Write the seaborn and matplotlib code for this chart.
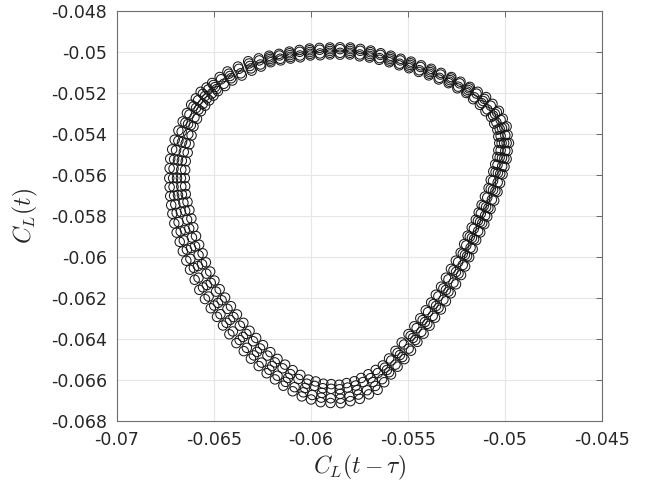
import matplotlib
matplotlib.use("Agg")
import matplotlib.pyplot as plt
import numpy as np
import pandas as pd
import seaborn as sns

# ---- data: C_L(t - tau) (x) vs C_L(t) (y), several passes around the limit cycle ----
trace1_x = [-0.06508, -0.06429, -0.06322, -0.06214, -0.06110, -0.06006, -0.05901, -0.05796, -0.05691, -0.05587,
            -0.05483, -0.05379, -0.05275, -0.05180, -0.05096, -0.05030, -0.04990, -0.04978, -0.04990, -0.05011,
            -0.05037, -0.05073, -0.05105, -0.05147, -0.05183, -0.05225, -0.05278, -0.05329, -0.05387, -0.05450,
            -0.05517, -0.05586, -0.05655, -0.05747, -0.05845, -0.05949, -0.06046, -0.06141, -0.06227, -0.06308,
            -0.06383, -0.06452, -0.06515, -0.06574, -0.06622, -0.06659, -0.06691, -0.06713, -0.06724, -0.06729,
            -0.06724, -0.06701, -0.06660, -0.06616, -0.06567]
trace1_y = [-0.05151, -0.05095, -0.05045, -0.05018, -0.04998, -0.04983, -0.04978, -0.04978, -0.04993, -0.05018,
            -0.05047, -0.05082, -0.05122, -0.05170, -0.05220, -0.05287, -0.05363, -0.05444, -0.05522, -0.05597,
            -0.05682, -0.05766, -0.05840, -0.05918, -0.06001, -0.06088, -0.06177, -0.06256, -0.06335, -0.06414,
            -0.06498, -0.06573, -0.06648, -0.06692, -0.06713, -0.06708, -0.06680, -0.06628, -0.06567, -0.06496,
            -0.06420, -0.06334, -0.06250, -0.06160, -0.06062, -0.05972, -0.05881, -0.05789, -0.05703, -0.05615,
            -0.05521, -0.05428, -0.05339, -0.05257, -0.05194]

trace2_x = [-0.06478, -0.06404, -0.06304, -0.06206, -0.06104, -0.06002, -0.05901, -0.05798, -0.05697, -0.05595,
            -0.05493, -0.05391, -0.05289, -0.05198, -0.05128, -0.05070, -0.05038, -0.05028, -0.05038, -0.05059,
            -0.05083, -0.05119, -0.05149, -0.05191, -0.05227, -0.05277, -0.05328, -0.05379, -0.05435, -0.05496,
            -0.05563, -0.05628, -0.05703, -0.05775, -0.05853, -0.05935, -0.06012, -0.06093, -0.06171, -0.06246,
            -0.06315, -0.06380, -0.06441, -0.06496, -0.06540, -0.06575, -0.06605, -0.06625, -0.06644, -0.06649,
            -0.06644, -0.06625, -0.06604, -0.06566, -0.06523]
trace2_y = [-0.05191, -0.05139, -0.05091, -0.05050, -0.05032, -0.05017, -0.05012, -0.05012, -0.05027, -0.05050,
            -0.05079, -0.05114, -0.05152, -0.05200, -0.05258, -0.05317, -0.05379, -0.05444, -0.05512, -0.05583,
            -0.05664, -0.05746, -0.05818, -0.05896, -0.05979, -0.06058, -0.06145, -0.06222, -0.06299, -0.06376,
            -0.06458, -0.06529, -0.06572, -0.06606, -0.06623, -0.06618, -0.06598, -0.06552, -0.06497, -0.06430,
            -0.06360, -0.06280, -0.06198, -0.06115, -0.06026, -0.05940, -0.05855, -0.05771, -0.05693, -0.05615,
            -0.05533, -0.05450, -0.05363, -0.05289, -0.05236]

trace3_x = [-0.06462, -0.06370, -0.06265, -0.06161, -0.06057, -0.05954, -0.05849, -0.05745, -0.05641, -0.05538,
            -0.05434, -0.05331, -0.05232, -0.05145, -0.05072, -0.05021, -0.04997, -0.04997, -0.05013, -0.05036,
            -0.05066, -0.05101, -0.05137, -0.05176, -0.05216, -0.05264, -0.05316, -0.05371, -0.05430, -0.05495,
            -0.05563, -0.05632, -0.05710, -0.05800, -0.05897, -0.05992, -0.06083, -0.06171, -0.06253, -0.06329,
            -0.06401, -0.06465, -0.06526, -0.06578, -0.06620, -0.06654, -0.06681, -0.06698, -0.06707, -0.06707,
            -0.06694, -0.06665, -0.06625, -0.06580, -0.06528]
trace3_y = [-0.05133, -0.05082, -0.05041, -0.05017, -0.04999, -0.04989, -0.04986, -0.04994, -0.05014, -0.05041,
            -0.05073, -0.05110, -0.05153, -0.05203, -0.05262, -0.05331, -0.05406, -0.05482, -0.05557, -0.05636,
            -0.05720, -0.05798, -0.05874, -0.05955, -0.06039, -0.06125, -0.06208, -0.06287, -0.06365, -0.06447,
            -0.06525, -0.06596, -0.06650, -0.06681, -0.06689, -0.06673, -0.06635, -0.06579, -0.06515, -0.06443,
            -0.06363, -0.06279, -0.06193, -0.06101, -0.06009, -0.05919, -0.05830, -0.05743, -0.05658, -0.05569,
            -0.05479, -0.05389, -0.05305, -0.05235, -0.05183]

trace4_x = [-0.06448, -0.06360, -0.06259, -0.06157, -0.06055, -0.05952, -0.05849, -0.05747, -0.05645, -0.05542,
            -0.05440, -0.05337, -0.05240, -0.05157, -0.05090, -0.05043, -0.05021, -0.05021, -0.05037, -0.05060,
            -0.05090, -0.05123, -0.05159, -0.05198, -0.05240, -0.05290, -0.05342, -0.05395, -0.05454, -0.05519,
            -0.05585, -0.05654, -0.05730, -0.05810, -0.05895, -0.05980, -0.06063, -0.06145, -0.06223, -0.06297,
            -0.06365, -0.06429, -0.06488, -0.06538, -0.06578, -0.06612, -0.06637, -0.06656, -0.06667, -0.06667,
            -0.06654, -0.06631, -0.06599, -0.06556, -0.06510]
trace4_y = [-0.05155, -0.05104, -0.05061, -0.05033, -0.05017, -0.05007, -0.05004, -0.05012, -0.05030, -0.05057,
            -0.05089, -0.05126, -0.05169, -0.05221, -0.05280, -0.05343, -0.05410, -0.05480, -0.05551, -0.05628,
            -0.05710, -0.05788, -0.05862, -0.05943, -0.06025, -0.06109, -0.06192, -0.06269, -0.06347, -0.06427,
            -0.06505, -0.06566, -0.06610, -0.06637, -0.06643, -0.06629, -0.06595, -0.06543, -0.06481, -0.06411,
            -0.06335, -0.06253, -0.06169, -0.06081, -0.05991, -0.05905, -0.05818, -0.05735, -0.05656, -0.05573,
            -0.05487, -0.05401, -0.05319, -0.05253, -0.05203]

trace5_x = [-0.06493, -0.06416, -0.06313, -0.06210, -0.06107, -0.06004, -0.05901, -0.05797, -0.05694, -0.05591,
            -0.05488, -0.05385, -0.05282, -0.05189, -0.05112, -0.05050, -0.05014, -0.05003, -0.05014, -0.05035,
            -0.05060, -0.05096, -0.05127, -0.05169, -0.05205, -0.05251, -0.05303, -0.05354, -0.05411, -0.05473,
            -0.05540, -0.05607, -0.05679, -0.05761, -0.05849, -0.05942, -0.06029, -0.06117, -0.06199, -0.06277,
            -0.06349, -0.06416, -0.06478, -0.06535, -0.06581, -0.06617, -0.06648, -0.06669, -0.06684, -0.06689,
            -0.06684, -0.06663, -0.06632, -0.06591, -0.06545]
trace5_y = [-0.05171, -0.05117, -0.05068, -0.05034, -0.05015, -0.05000, -0.04995, -0.04995, -0.05010, -0.05034,
            -0.05063, -0.05098, -0.05137, -0.05185, -0.05239, -0.05302, -0.05371, -0.05444, -0.05517, -0.05590,
            -0.05673, -0.05756, -0.05829, -0.05907, -0.05990, -0.06073, -0.06161, -0.06239, -0.06317, -0.06395,
            -0.06478, -0.06551, -0.06610, -0.06649, -0.06668, -0.06663, -0.06639, -0.06590, -0.06532, -0.06463,
            -0.06390, -0.06307, -0.06224, -0.06137, -0.06044, -0.05956, -0.05868, -0.05780, -0.05698, -0.05615,
            -0.05527, -0.05439, -0.05351, -0.05273, -0.05215]

trace6_x = [-0.06469, -0.06375, -0.06268, -0.06163, -0.06058, -0.05955, -0.05849, -0.05744, -0.05639, -0.05536,
            -0.05431, -0.05328, -0.05228, -0.05139, -0.05063, -0.05010, -0.04985, -0.04985, -0.05001, -0.05024,
            -0.05054, -0.05090, -0.05126, -0.05165, -0.05204, -0.05251, -0.05303, -0.05359, -0.05418, -0.05483,
            -0.05552, -0.05621, -0.05700, -0.05795, -0.05898, -0.05998, -0.06093, -0.06184, -0.06268, -0.06345,
            -0.06419, -0.06483, -0.06545, -0.06598, -0.06641, -0.06675, -0.06703, -0.06719, -0.06727, -0.06727,
            -0.06714, -0.06682, -0.06638, -0.06592, -0.06537]
trace6_y = [-0.05122, -0.05071, -0.05031, -0.05009, -0.04990, -0.04980, -0.04977, -0.04985, -0.05006, -0.05033,
            -0.05065, -0.05102, -0.05145, -0.05194, -0.05253, -0.05325, -0.05404, -0.05483, -0.05560, -0.05640,
            -0.05725, -0.05803, -0.05880, -0.05961, -0.06046, -0.06133, -0.06216, -0.06296, -0.06374, -0.06457,
            -0.06535, -0.06611, -0.06670, -0.06703, -0.06712, -0.06695, -0.06655, -0.06597, -0.06532, -0.06459,
            -0.06377, -0.06292, -0.06205, -0.06111, -0.06018, -0.05926, -0.05836, -0.05747, -0.05659, -0.05567,
            -0.05475, -0.05383, -0.05298, -0.05226, -0.05173]

trace7_x = [-0.06441, -0.06355, -0.06256, -0.06155, -0.06054, -0.05951, -0.05849, -0.05748, -0.05647, -0.05544,
            -0.05443, -0.05340, -0.05244, -0.05163, -0.05099, -0.05054, -0.05033, -0.05033, -0.05049, -0.05072,
            -0.05102, -0.05134, -0.05170, -0.05209, -0.05252, -0.05303, -0.05355, -0.05407, -0.05466, -0.05531,
            -0.05596, -0.05665, -0.05740, -0.05815, -0.05894, -0.05974, -0.06053, -0.06132, -0.06208, -0.06281,
            -0.06347, -0.06411, -0.06469, -0.06518, -0.06557, -0.06591, -0.06615, -0.06635, -0.06647, -0.06647,
            -0.06634, -0.06614, -0.06586, -0.06544, -0.06501]
trace7_y = [-0.05166, -0.05115, -0.05071, -0.05041, -0.05026, -0.05016, -0.05013, -0.05021, -0.05038, -0.05065,
            -0.05097, -0.05134, -0.05177, -0.05230, -0.05289, -0.05349, -0.05412, -0.05479, -0.05548, -0.05624,
            -0.05705, -0.05783, -0.05856, -0.05937, -0.06018, -0.06101, -0.06184, -0.06260, -0.06338, -0.06417,
            -0.06495, -0.06551, -0.06590, -0.06615, -0.06620, -0.06607, -0.06575, -0.06525, -0.06464, -0.06395,
            -0.06321, -0.06240, -0.06157, -0.06071, -0.05982, -0.05898, -0.05812, -0.05731, -0.05655, -0.05575,
            -0.05491, -0.05407, -0.05326, -0.05262, -0.05213]

trace8_x = [-0.06501, -0.06422, -0.06318, -0.06212, -0.06109, -0.06005, -0.05901, -0.05796, -0.05692, -0.05589,
            -0.05485, -0.05382, -0.05278, -0.05184, -0.05104, -0.05040, -0.05002, -0.04990, -0.05002, -0.05023,
            -0.05048, -0.05084, -0.05116, -0.05158, -0.05194, -0.05238, -0.05290, -0.05341, -0.05399, -0.05461,
            -0.05528, -0.05596, -0.05667, -0.05754, -0.05847, -0.05946, -0.06038, -0.06129, -0.06213, -0.06293,
            -0.06366, -0.06434, -0.06497, -0.06555, -0.06602, -0.06638, -0.06670, -0.06691, -0.06704, -0.06709,
            -0.06704, -0.06682, -0.06646, -0.06604, -0.06556]
trace8_y = [-0.05161, -0.05106, -0.05056, -0.05026, -0.05006, -0.04991, -0.04986, -0.04986, -0.05001, -0.05026,
            -0.05055, -0.05090, -0.05129, -0.05177, -0.05229, -0.05294, -0.05367, -0.05444, -0.05520, -0.05594,
            -0.05678, -0.05761, -0.05835, -0.05913, -0.05996, -0.06081, -0.06169, -0.06248, -0.06326, -0.06405,
            -0.06488, -0.06562, -0.06629, -0.06671, -0.06691, -0.06686, -0.06660, -0.06609, -0.06550, -0.06480,
            -0.06405, -0.06321, -0.06237, -0.06148, -0.06053, -0.05964, -0.05875, -0.05785, -0.05701, -0.05615,
            -0.05524, -0.05433, -0.05345, -0.05265, -0.05204]

trace9_x = [-0.06485, -0.06410, -0.06308, -0.06208, -0.06105, -0.06003, -0.05901, -0.05798, -0.05696, -0.05593,
            -0.05491, -0.05388, -0.05286, -0.05194, -0.05120, -0.05060, -0.05026, -0.05016, -0.05026, -0.05047,
            -0.05072, -0.05108, -0.05138, -0.05180, -0.05216, -0.05264, -0.05316, -0.05367, -0.05423, -0.05485,
            -0.05552, -0.05618, -0.05691, -0.05768, -0.05851, -0.05938, -0.06020, -0.06105, -0.06185, -0.06261,
            -0.06332, -0.06398, -0.06459, -0.06515, -0.06560, -0.06596, -0.06626, -0.06647, -0.06664, -0.06669,
            -0.06664, -0.06644, -0.06618, -0.06578, -0.06534]
trace9_y = [-0.05181, -0.05128, -0.05080, -0.05042, -0.05024, -0.05009, -0.05004, -0.05004, -0.05019, -0.05042,
            -0.05071, -0.05106, -0.05145, -0.05193, -0.05249, -0.05310, -0.05375, -0.05444, -0.05514, -0.05586,
            -0.05668, -0.05751, -0.05823, -0.05901, -0.05984, -0.06065, -0.06153, -0.06230, -0.06308, -0.06385,
            -0.06468, -0.06540, -0.06591, -0.06627, -0.06645, -0.06640, -0.06618, -0.06571, -0.06514, -0.06446,
            -0.06375, -0.06293, -0.06211, -0.06126, -0.06035, -0.05948, -0.05861, -0.05775, -0.05695, -0.05615,
            -0.05530, -0.05445, -0.05357, -0.05281, -0.05226]

x_ticks = [-0.07, -0.065, -0.06, -0.055, -0.05, -0.045]
x_tick_labels = ["-0.07", "-0.065", "-0.06", "-0.055", "-0.05", "-0.045"]
y_ticks = [-0.068, -0.066, -0.064, -0.062, -0.06, -0.058, -0.056, -0.054, -0.052, -0.05, -0.048]
y_tick_labels = ["-0.068", "-0.066", "-0.064", "-0.062", "-0.06", "-0.058", "-0.056", "-0.054",
                 "-0.052", "-0.05", "-0.048"]

traces = [(trace1_x, trace1_y), (trace2_x, trace2_y), (trace3_x, trace3_y),
          (trace4_x, trace4_y), (trace5_x, trace5_y), (trace6_x, trace6_y),
          (trace7_x, trace7_y), (trace8_x, trace8_y), (trace9_x, trace9_y)]
df = pd.concat(
    [pd.DataFrame({"x": tx, "y": ty, "pass": i}) for i, (tx, ty) in enumerate(traces)],
    ignore_index=True,
)

sns.set_theme(style="white")
plt.rcParams["font.family"] = ["DejaVu Sans"]
plt.rcParams["mathtext.fontset"] = "cm"
plt.rcParams["axes.unicode_minus"] = False

fig = plt.figure(figsize=(6.5, 4.87), dpi=100)
ax = fig.add_axes([0.1795, 0.1355, 0.7462, 0.8419])

sns.scatterplot(data=df, x="x", y="y", ax=ax, marker="o", s=46,
                facecolor="none", edgecolor="#1a1a1a", linewidth=0.75,
                legend=False, zorder=3)

ax.set_xlim(-0.07, -0.045)
ax.set_ylim(-0.068, -0.048)
ax.set_xticks(x_ticks)
ax.set_xticklabels(x_tick_labels)
ax.set_yticks(y_ticks)
ax.set_yticklabels(y_tick_labels)

ax.grid(True, color="#e6e6e6", linewidth=0.8)
ax.set_axisbelow(True)
ax.tick_params(direction="in", top=True, right=True, length=4, width=0.6,
               color="#555555", labelsize=12.5, labelcolor="#262626", pad=7)
for sp in ax.spines.values():
    sp.set_color("#6e6e6e")
    sp.set_linewidth(0.8)

ax.set_xlabel(r"$C_L(t-\tau)$", fontsize=17, color="#262626", labelpad=3)
ax.set_ylabel(r"$C_L(t)$", fontsize=17, color="#262626", labelpad=8)

fig.savefig("out.png", dpi=100, facecolor="white")
